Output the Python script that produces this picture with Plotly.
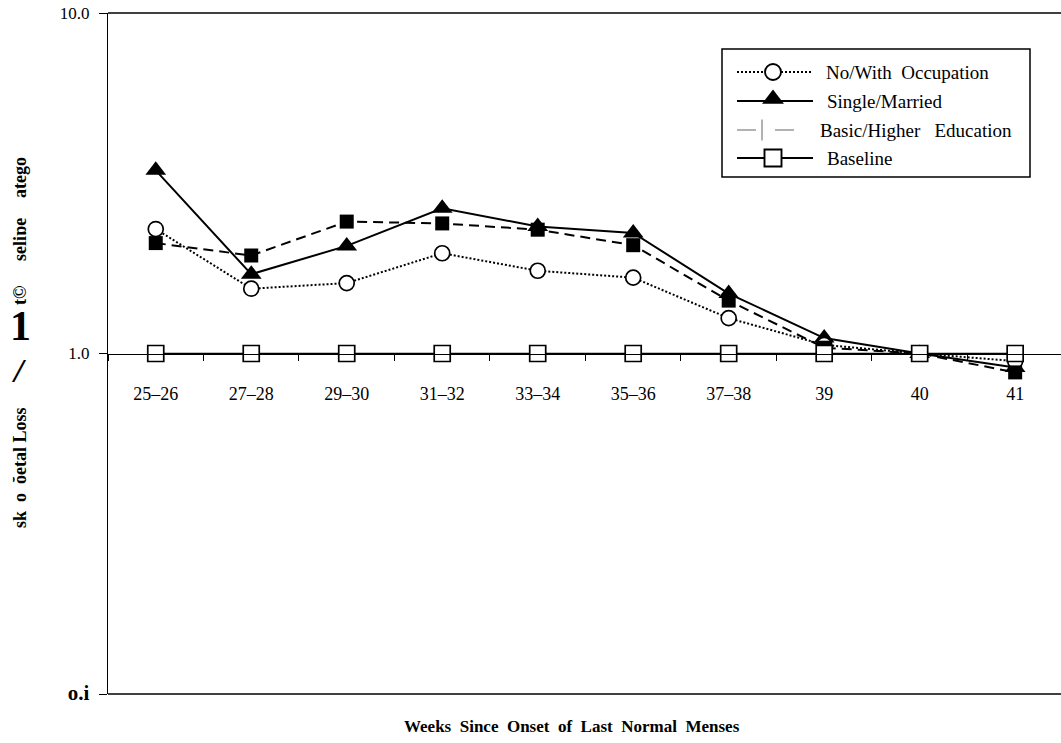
import plotly.graph_objects as go

# ---------------- data ----------------
categories = ["25–26", "27–28", "29–30", "31–32", "33–34", "35–36", "37–38", "39", "40", "41"]
occupation = [2.32, 1.55, 1.61, 1.97, 1.75, 1.67, 1.27, 1.06, 1.00, 0.95]
single_married = [3.45, 1.71, 2.07, 2.67, 2.36, 2.26, 1.50, 1.11, 1.00, 0.91]
education = [2.11, 1.94, 2.44, 2.41, 2.31, 2.08, 1.43, 1.04, 1.00, 0.88]
baseline = [1.0] * 10

y_tickvals = [0.1, 1.0, 10.0]
y_ticktext = ["<span style='font-size:21px'><b>o.i</b></span>", "1.0", "10.0"]

legend_labels = ["No/With  Occupation", "Single/Married", "Basic/Higher   Education", "Baseline"]

# ---------------- layout geometry (pixels) ----------------
W, H = 1061, 743
L, R, T, B = 108, 1061, 13, 694
SERIF = "Liberation Serif"


def fx(px):
    return (px - L) / (R - L)


def fy(py):
    return (B - py) / (B - T)


fig = go.Figure()

# data traces
fig.add_trace(go.Scatter(
    x=categories, y=single_married, mode="lines+markers", name="Single/Married",
    line=dict(color="black", width=2),
    marker=dict(symbol="triangle-up", size=18, color="black"),
    showlegend=False))
fig.add_trace(go.Scatter(
    x=categories, y=occupation, mode="lines+markers", name="No/With Occupation",
    line=dict(color="black", width=2, dash="2px,2px"),
    marker=dict(symbol="circle", size=15, color="white", line=dict(color="black", width=1.7)),
    showlegend=False))
fig.add_trace(go.Scatter(
    x=categories, y=education, mode="lines+markers", name="Basic/Higher Education",
    line=dict(color="black", width=2, dash="10px,6px"),
    marker=dict(symbol="square", size=14, color="black"),
    showlegend=False))
fig.add_trace(go.Scatter(
    x=categories, y=baseline, mode="lines+markers", name="Baseline",
    line=dict(color="black", width=1.6),
    marker=dict(symbol="square", size=16, color="white", line=dict(color="black", width=1.7)),
    showlegend=False))

# ---------------- custom legend (overlay axis in [0,1] plot fractions) ----------------
rows_py = [72, 101, 130, 158]
sym_x0, sym_x1, sym_mid = 737, 813, 773
text_x = [824, 825, 818, 825]

# row 1: dotted + open circle
fig.add_trace(go.Scatter(
    x=[fx(sym_x0), fx(sym_x1)], y=[fy(rows_py[0])] * 2, mode="lines",
    line=dict(color="black", width=2, dash="2px,2px"), xaxis="x2", yaxis="y2",
    showlegend=False, hoverinfo="skip"))
fig.add_trace(go.Scatter(
    x=[fx(sym_mid)], y=[fy(rows_py[0])], mode="markers",
    marker=dict(symbol="circle", size=16, color="white", line=dict(color="black", width=1.9)),
    xaxis="x2", yaxis="y2", showlegend=False, hoverinfo="skip"))
# row 2: solid + triangle
fig.add_trace(go.Scatter(
    x=[fx(sym_x0), fx(sym_x1)], y=[fy(rows_py[1])] * 2, mode="lines",
    line=dict(color="black", width=2), xaxis="x2", yaxis="y2",
    showlegend=False, hoverinfo="skip"))
fig.add_trace(go.Scatter(
    x=[fx(sym_mid)], y=[fy(rows_py[1] - 2)], mode="markers",
    marker=dict(symbol="triangle-up", size=19, color="black"),
    xaxis="x2", yaxis="y2", showlegend=False, hoverinfo="skip"))
# row 3: grey broken symbol
fig.add_trace(go.Scatter(
    x=[fx(737), fx(756), None, fx(775), fx(794)], y=[fy(rows_py[2])] * 2 + [None] + [fy(rows_py[2])] * 2,
    mode="lines", line=dict(color="#999999", width=1.5), xaxis="x2", yaxis="y2",
    showlegend=False, hoverinfo="skip"))
fig.add_trace(go.Scatter(
    x=[fx(762)], y=[fy(rows_py[2])], mode="markers",
    marker=dict(symbol="line-ns-open", size=15, color="#999999", line=dict(color="#999999", width=1.5)),
    xaxis="x2", yaxis="y2", showlegend=False, hoverinfo="skip"))
# row 4: solid + open square
fig.add_trace(go.Scatter(
    x=[fx(sym_x0), fx(sym_x1)], y=[fy(rows_py[3])] * 2, mode="lines",
    line=dict(color="black", width=2), xaxis="x2", yaxis="y2",
    showlegend=False, hoverinfo="skip"))
fig.add_trace(go.Scatter(
    x=[fx(sym_mid)], y=[fy(rows_py[3])], mode="markers",
    marker=dict(symbol="square", size=17, color="white", line=dict(color="black", width=1.9)),
    xaxis="x2", yaxis="y2", showlegend=False, hoverinfo="skip"))

annotations = []
for lbl, py, tx in zip(legend_labels, rows_py, text_x):
    annotations.append(dict(
        text=lbl, x=fx(tx), y=fy(py), xref="paper", yref="paper",
        xanchor="left", yanchor="middle", showarrow=False,
        font=dict(family=SERIF, size=19, color="black")))

# x-axis title
annotations.append(dict(
    text="<b>Weeks  Since  Onset  of  Last  Normal  Menses</b>",
    x=fx(572), y=fy(726), xref="paper", yref="paper",
    xanchor="center", yanchor="middle", showarrow=False,
    font=dict(family=SERIF, size=17, color="black")))

# y-axis title (garbled pieces as in the reference)
rot_pieces = [("<b>sk  o  ŏetal Loss</b>", 468), ("<b>t©</b>", 296), ("<b>seliɒe</b>", 240), ("<b>atego</b>", 178)]
for txt, py in rot_pieces:
    annotations.append(dict(
        text=txt, x=fx(20), y=fy(py), xref="paper", yref="paper",
        xanchor="center", yanchor="middle", textangle=-90, showarrow=False,
        font=dict(family=SERIF, size=18, color="black")))
annotations.append(dict(
    text="<b>1</b>", x=fx(20), y=fy(326), xref="paper", yref="paper",
    xanchor="center", yanchor="middle", showarrow=False,
    font=dict(family=SERIF, size=42, color="black")))
annotations.append(dict(
    text="<b><i>/</i></b>", x=fx(19), y=fy(370), xref="paper", yref="paper",
    xanchor="center", yanchor="middle", showarrow=False,
    font=dict(family=SERIF, size=34, color="black")))

shapes = [
    # legend box
    dict(type="rect", xref="paper", yref="paper", x0=fx(722), x1=fx(1030), y0=fy(49), y1=fy(177),
         line=dict(color="black", width=1.5), fillcolor="rgba(0,0,0,0)", layer="above"),
    # top frame line
    dict(type="line", xref="paper", yref="paper", x0=0, x1=1, y0=1, y1=1,
         line=dict(color="black", width=1.3)),
    # bottom frame line
    dict(type="line", xref="paper", yref="paper", x0=0, x1=1, y0=0, y1=0,
         line=dict(color="black", width=1.3)),
]

fig.update_layout(
    width=W, height=H,
    margin=dict(l=L, r=W - R, t=T, b=H - B, pad=0),
    paper_bgcolor="white", plot_bgcolor="white",
    font=dict(family=SERIF, size=18, color="black"),
    xaxis=dict(
        type="category", categoryorder="array", categoryarray=categories,
        range=[-0.5, 9.48], anchor="free", position=0.5,
        showline=True, linecolor="black", linewidth=1.3,
        ticks="outside", tickson="boundaries", ticklen=6, tickcolor="black", tickwidth=1,
        ticklabelstandoff=24,
        showgrid=False, zeroline=False,
        tickfont=dict(family=SERIF, size=18, color="black")),
    yaxis=dict(
        type="log", range=[-1, 1], showline=True, linecolor="black", linewidth=1.3,
        tickvals=y_tickvals, ticktext=y_ticktext,
        ticks="outside", ticklen=8, tickcolor="black", tickwidth=1,
        ticklabelstandoff=6,
        showgrid=False, zeroline=False,
        tickfont=dict(family=SERIF, size=17, color="black")),
    xaxis2=dict(domain=[0, 1], range=[0, 1], overlaying="x", anchor="y2", visible=False, fixedrange=True),
    yaxis2=dict(domain=[0, 1], range=[0, 1], overlaying="y", anchor="x2", visible=False, fixedrange=True),
    annotations=annotations,
    shapes=shapes,
    showlegend=False,
)

fig.write_html("out.html")
